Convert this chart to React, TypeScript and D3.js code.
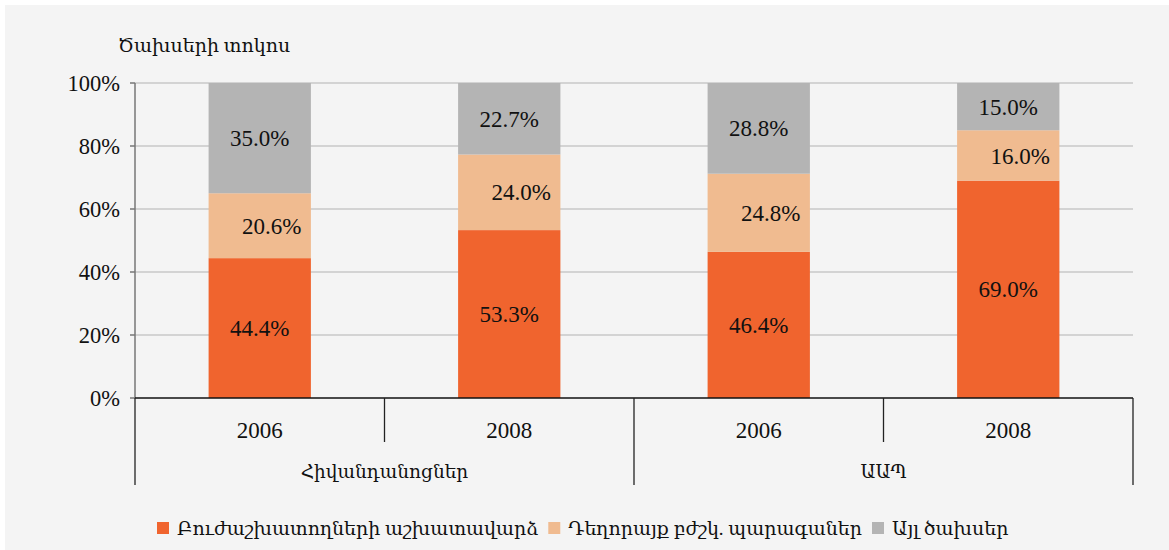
import React, { useRef, useEffect } from "react";
import * as d3 from "d3";

// data
const groups = ["Հիվանդանոցներ", "ԱԱՊ"];
const years = ["2006", "2008"];
const seriesNames = [
  "Բուժաշխատողների աշխատավարձ",
  "Դեղորայք բժշկ. պարագաներ",
  "Այլ ծախսեր",
];
const salaries = [44.4, 53.3, 46.4, 69.0];
const medicines = [20.6, 24.0, 24.8, 16.0];
const other = [35.0, 22.7, 28.8, 15.0];
const yTicks = [0, 20, 40, 60, 80, 100];
const colors = ["#f0642e", "#f0bb90", "#b4b4b4"];

const W = 1169;
const H = 550;
const serif = "'Liberation Serif', 'DejaVu Serif', serif";

export default function App() {
  const ref = useRef<SVGSVGElement>(null);

  useEffect(() => {
    const svg = d3.select(ref.current);
    svg.selectAll("*").remove();

    const left = 135;
    const right = 1133;
    const top = 83;
    const bottom = 398;

    svg.append("rect").attr("width", W).attr("height", H).attr("fill", "#fff");
    svg
      .append("rect")
      .attr("x", 5)
      .attr("y", 5)
      .attr("width", W - 5)
      .attr("height", H - 5)
      .attr("fill", "#f4f4f4");

    const cats = d3.range(groups.length * years.length);
    // slots span the whole plot; bars take ~41% of each slot
    const x = d3.scaleBand<number>().domain(cats).range([left, right]).padding(0);
    const barW = x.bandwidth() * 0.41;
    const cx = (i: number) => x(i)! + x.bandwidth() / 2;
    const y = d3.scaleLinear().domain([0, 100]).range([bottom, top]);

    // gridlines
    svg
      .append("g")
      .selectAll("line")
      .data(yTicks.filter((t) => t > 0))
      .join("line")
      .attr("x1", left)
      .attr("x2", right)
      .attr("y1", (d) => y(d))
      .attr("y2", (d) => y(d))
      .attr("stroke", "#c8c8c8")
      .attr("stroke-width", 1.3);

    // y axis
    svg
      .append("line")
      .attr("x1", left)
      .attr("x2", left)
      .attr("y1", top)
      .attr("y2", bottom)
      .attr("stroke", "#777")
      .attr("stroke-width", 1.5);
    svg
      .append("g")
      .selectAll("line")
      .data(yTicks)
      .join("line")
      .attr("x1", left - 5)
      .attr("x2", left)
      .attr("y1", (d) => y(d))
      .attr("y2", (d) => y(d))
      .attr("stroke", "#777")
      .attr("stroke-width", 1.5);
    svg
      .append("g")
      .selectAll("text")
      .data(yTicks)
      .join("text")
      .attr("x", 120)
      .attr("y", (d) => y(d))
      .attr("dy", "0.35em")
      .attr("text-anchor", "end")
      .attr("font-family", serif)
      .attr("font-size", 22.5)
      .attr("fill", "#111")
      .text((d) => d + "%");

    // stacked bars
    const rows = cats.map((i) => ({ salaries: salaries[i], medicines: medicines[i], other: other[i], i }));
    const stack = d3.stack<any>().keys(["salaries", "medicines", "other"])(rows);
    const labelDx = [0, 12, 0];

    stack.forEach((layer, k) => {
      const g = svg.append("g");
      g.selectAll("rect")
        .data(layer)
        .join("rect")
        .attr("x", (d: any) => cx(d.data.i) - barW / 2)
        .attr("width", barW)
        .attr("y", (d) => y(d[1]))
        .attr("height", (d) => y(d[0]) - y(d[1]))
        .attr("fill", colors[k]);
      g.selectAll("text")
        .data(layer)
        .join("text")
        .attr("x", (d: any) => cx(d.data.i) + labelDx[k])
        .attr("y", (d) => y((d[0] + d[1]) / 2))
        .attr("dy", "0.35em")
        .attr("text-anchor", "middle")
        .attr("font-family", serif)
        .attr("font-size", 23)
        .attr("fill", "#111")
        .text((d) => (d[1] - d[0]).toFixed(1) + "%");
    });

    // x axis
    svg
      .append("line")
      .attr("x1", left)
      .attr("x2", right)
      .attr("y1", bottom)
      .attr("y2", bottom)
      .attr("stroke", "#111")
      .attr("stroke-width", 1.5);

    const bounds = d3.range(cats.length + 1).map((i) => left + i * x.step());
    svg
      .append("g")
      .selectAll("line")
      .data(bounds)
      .join("line")
      .attr("x1", (d) => d)
      .attr("x2", (d) => d)
      .attr("y1", bottom)
      .attr("y2", (_, i) => (i % years.length === 0 ? 485 : 442))
      .attr("stroke", "#222")
      .attr("stroke-width", 1.3);

    svg
      .append("g")
      .selectAll("text")
      .data(cats)
      .join("text")
      .attr("x", (d) => cx(d))
      .attr("y", 430)
      .attr("dy", "0.35em")
      .attr("text-anchor", "middle")
      .attr("font-family", serif)
      .attr("font-size", 23)
      .attr("fill", "#111")
      .text((d) => years[d % years.length]);

    svg
      .append("g")
      .selectAll("text")
      .data(groups)
      .join("text")
      .attr("x", (_, i) => (bounds[i * years.length] + bounds[(i + 1) * years.length]) / 2)
      .attr("y", 472)
      .attr("dy", "0.35em")
      .attr("text-anchor", "middle")
      .attr("font-family", serif)
      .attr("font-size", 18.5)
      .attr("fill", "#111")
      .text((d) => d);

    // axis title
    svg
      .append("text")
      .attr("x", 118)
      .attr("y", 45)
      .attr("dy", "0.35em")
      .attr("font-family", serif)
      .attr("font-size", 19)
      .attr("fill", "#111")
      .text("Ծախսերի տոկոս");

    // legend
    const legend = svg.append("g").attr("transform", "translate(0,528)");
    let lx = 157;
    seriesNames.forEach((name, k) => {
      legend
        .append("rect")
        .attr("x", lx)
        .attr("y", -6)
        .attr("width", 12)
        .attr("height", 12)
        .attr("fill", colors[k]);
      const t = legend
        .append("text")
        .attr("x", lx + 20)
        .attr("y", 0)
        .attr("dy", "0.35em")
        .attr("font-family", serif)
        .attr("font-size", 19)
        .attr("fill", "#111")
        .text(name);
      const w = (t.node() as SVGTextElement).getComputedTextLength();
      lx += 20 + w + 10;
    });
  }, []);

  return (
    <svg
      ref={ref}
      width={W}
      height={H}
      style={{ position: "absolute", left: 0, top: 0, display: "block" }}
    />
  );
}
